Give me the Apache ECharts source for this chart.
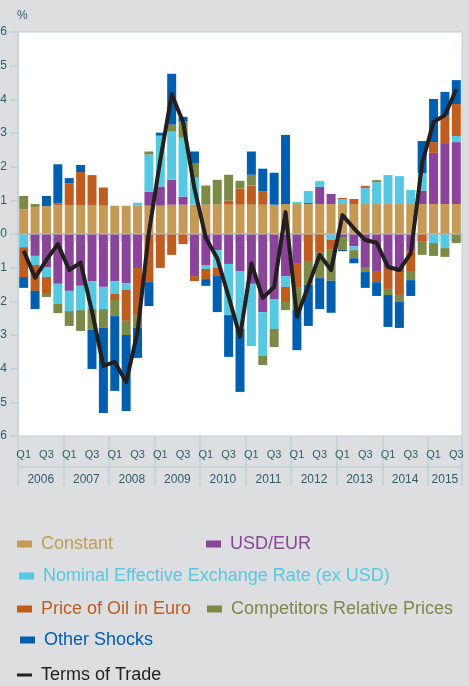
<!DOCTYPE html>
<html>
<head>
<meta charset="utf-8">
<script src="https://cdn.jsdelivr.net/npm/echarts@6.0.0/dist/echarts.min.js"></script>
<style>
  html, body { margin: 0; padding: 0; background: #dcdee0; }
  #chart { width: 469px; height: 686px; }
</style>
</head>
<body>
<div id="chart"></div>
<script>
// quarters 2006 Q1 .. 2015 Q3
const years = ['2006', '2007', '2008', '2009', '2010', '2011', '2012', '2013', '2014', '2015'];
const quarters = [];
years.forEach(y => ['Q1', 'Q2', 'Q3', 'Q4'].forEach(q => quarters.push(y + ' ' + q)));
quarters.length = 39;

// contributions, percentage points
const constant = [0.74, 0.80, 0.83, 0.85, 0.86, 0.86, 0.86, 0.84, 0.84, 0.84, 0.84, 0.84, 0.84, 0.87, 0.87, 0.87, 0.87, 0.87, 0.87, 0.87,
  0.87, 0.87, 0.87, 0.89, 0.89, 0.89, 0.89, 0.89, 0.89, 0.89, 0.89, 0.89, 0.89, 0.89, 0.89, 0.89, 0.89, 0.89, 0.89];
const usdEur = [0, -0.65, -0.98, -1.48, -1.69, -1.54, -1.40, -1.57, -1.40, -1.46, -1.01, 0.42, 0.57, 0.74, 0.24, -1.25, -0.92, -0.48, -0.89, -1.10,
  -1.48, -2.32, -1.93, -1.25, -0.86, 0.03, 0.51, 0.30, -0.09, -0.36, -0.98, -1.10, -1.01, -1.13, -0.50, 0.39, 1.52, 1.81, 1.84];
const neer = [-0.39, -0.27, -0.30, -0.60, -0.60, -0.72, -0.83, -0.66, -0.38, -0.20, 0.09, 1.10, 1.51, 1.43, 1.75, 0.80, -0.12, -0.53, -1.52, -1.72,
  -1.85, -1.30, -0.89, -0.32, 0.06, 0.36, 0.17, -0.17, 0.15, -0.12, 0.48, 0.65, 0.86, 0.83, 0.42, 0.53, -0.27, -0.42, 0.18];
const oil = [-0.89, -0.77, -0.50, 0.06, 0.65, 0.98, 0.89, 0.54, -0.18, -0.92, -1.40, -1.43, -0.98, -0.62, -0.30, -0.15, -0.30, -0.24, 0.12, 0.48,
  0.57, 0.39, -0.03, -0.45, -0.74, -0.80, -0.56, -0.30, 0.03, 0.15, 0.06, -0.33, -0.62, -0.68, -0.60, -0.21, 0.32, 0.83, 0.95];
const competitors = [0.39, 0.09, -0.09, -0.27, -0.44, -0.62, -0.62, -0.56, -0.48, -0.42, -0.38, 0.09, -0.03, 0.21, 0.48, 0.42, 0.57, 0.74, 0.77, 0.23,
  0.32, -0.27, -0.51, -0.24, -0.66, -0.71, -0.75, -0.92, -0.38, -0.24, -0.15, 0.06, -0.18, -0.21, -0.27, -0.41, -0.38, -0.26, -0.27];
const other = [-0.32, -0.54, 0.30, 1.16, 0.15, 0.21, -1.16, -2.53, -2.22, -2.26, -0.89, -0.71, 0.09, 1.51, 0.14, 0.36, -0.20, -1.07, -1.24, -1.87,
  0.69, 0.68, 0.95, 2.05, -1.19, -1.22, -0.92, -0.95, -0.04, -0.15, -0.47, -0.41, -0.95, -0.77, -0.47, 0.95, 1.28, 0.69, 0.71];
const termsOfTrade = [-0.50, -1.30, -0.77, -0.30, -1.07, -0.85, -2.30, -3.92, -3.80, -4.40, -2.91, 0.05, 2.20, 4.15, 3.33, 1.35, -0.12, -0.72, -1.86, -3.05,
  -0.87, -1.90, -1.57, 0.65, -2.46, -1.54, -0.62, -1.07, 0.56, 0.17, -0.18, -0.26, -0.98, -1.07, -0.57, 2.10, 3.33, 3.53, 4.30];

// year axis: boundaries and label centres, in quarter units
const yearBounds = [0, 4, 8, 12, 16, 20, 24, 28, 32, 36, 39];
const yearCentres = [2, 6, 10, 14, 18, 22, 26, 30, 34, 37.5];

const axisCol = '#bed2d8';
const labelCol = '#2c5e6c';
const font = '"Liberation Sans", Arial, sans-serif';

const barDefs = [
  {name: 'Constant', data: constant, color: '#c49a56'},
  {name: 'USD/EUR', data: usdEur, color: '#8a4499'},
  {name: 'Nominal Effective Exchange Rate (ex USD)', data: neer, color: '#56c8e1'},
  {name: 'Price of Oil in Euro', data: oil, color: '#bf5c1f'},
  {name: 'Competitors Relative Prices', data: competitors, color: '#7b8a47'},
  {name: 'Other Shocks', data: other, color: '#005eb0'}
];
const lineColor = '#231f20';

const series = barDefs.map(d => ({
  name: d.name,
  type: 'bar',
  stack: 'total',
  data: d.data,
  barCategoryGap: '21%',
  itemStyle: {color: d.color},
  emphasis: {disabled: true}
}));
series.push({
  name: 'Terms of Trade',
  type: 'line',
  data: termsOfTrade,
  symbol: 'none',
  z: 10,
  lineStyle: {color: lineColor, width: 4, join: 'round'},
  itemStyle: {color: lineColor},
  markLine: {
    silent: true,
    symbol: 'none',
    label: {show: false},
    lineStyle: {color: 'rgba(185,185,185,0.8)', width: 1.5, type: 'solid'},
    data: [{yAxis: 0}]
  }
});

// legend placement
const legendSpots = [
  {name: 'Constant', left: 17, top: 535, color: '#c49a56'},
  {name: 'USD/EUR', left: 206, top: 535, color: '#8a4499'},
  {name: 'Nominal Effective Exchange Rate (ex USD)', left: 19, top: 567, color: '#56c8e1'},
  {name: 'Price of Oil in Euro', left: 17, top: 600, color: '#bf5c1f'},
  {name: 'Competitors Relative Prices', left: 207, top: 600, color: '#7b8a47'},
  {name: 'Other Shocks', left: 20, top: 631, color: '#005eb0'},
  {name: 'Terms of Trade', left: 17, top: 666, color: lineColor, line: true}
];
const legends = legendSpots.map(s => ({
  left: s.left,
  top: s.top,
  padding: 0,
  icon: 'rect',
  itemWidth: 15,
  itemHeight: s.line ? 3 : 7,
  selectedMode: false,
  data: [s.name],
  textStyle: {color: s.color, fontSize: 18, fontFamily: font, padding: [0, 0, 0, 4]}
}));

const chart = echarts.init(document.getElementById('chart'));
chart.setOption({
  backgroundColor: '#dcdee0',
  animation: false,
  textStyle: {fontFamily: font},
  legend: legends,
  grid: {
    left: 18, right: 7, top: 32, bottom: 250,
    outerBoundsMode: 'none',
    show: true, backgroundColor: '#ffffff', borderColor: axisCol, borderWidth: 1
  },
  xAxis: [
    {
      type: 'category',
      data: quarters,
      axisLine: {lineStyle: {color: axisCol, width: 1.5}},
      axisTick: {show: true, interval: 0, length: 7, lineStyle: {color: axisCol, width: 1.5}},
      axisLabel: {
        interval: 0, margin: 13, color: labelCol, fontSize: 11,
        formatter: v => {
          const q = v.split(' ')[1];
          return (q === 'Q1' || q === 'Q3') ? q : '';
        }
      }
    },
    {
      type: 'value', min: 0, max: 39, position: 'bottom',
      axisLine: {show: false},
      axisTick: {show: true, customValues: yearBounds, length: 50, lineStyle: {color: axisCol, width: 1.5}},
      axisLabel: {show: false},
      splitLine: {show: false}
    },
    {
      type: 'value', min: 0, max: 39, position: 'bottom', offset: 31,
      axisLine: {show: true, lineStyle: {color: axisCol, width: 1.5}},
      axisTick: {show: false},
      axisLabel: {
        customValues: yearCentres, margin: 7, color: labelCol, fontSize: 12,
        formatter: v => years[yearCentres.indexOf(v)] || ''
      },
      splitLine: {show: false}
    }
  ],
  yAxis: {
    type: 'value', min: -6, max: 6, interval: 1,
    name: '%', nameLocation: 'end', nameGap: 10,
    nameTextStyle: {color: labelCol, fontSize: 12, align: 'left', padding: [0, 0, 0, -1]},
    axisLine: {show: true, lineStyle: {color: axisCol, width: 1.5}},
    axisTick: {show: true, length: 8, lineStyle: {color: axisCol, width: 1.5}},
    axisLabel: {margin: 11, color: labelCol, fontSize: 12},
    splitLine: {show: false}
  },
  series: series
});
</script>
</body>
</html>
